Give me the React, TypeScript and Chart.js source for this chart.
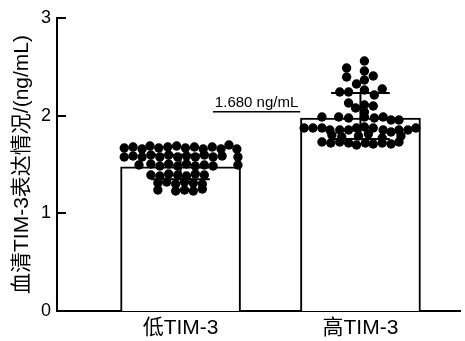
import { useEffect, useRef } from "react";
import { Chart, registerables } from "chart.js";

Chart.register(...registerables);

const categories = ["低TIM-3", "高TIM-3"];
const barMeans = [1.475, 1.975];
const errUpper = [1.6, 2.232];
const errLower = [1.35, 1.761];
const yTicks = [0, 1, 2, 3];
const yTitle = "血清TIM-3表达情况/(ng/mL)";
const refLabel = "1.680 ng/mL";
const refValue = 2.04;
const refFrom = 1.18;
const refTo = 1.665;

const lowOffsets = [
  -0.313, -0.264, -0.214, -0.17, -0.121, -0.071, -0.022, 0.027, 0.077, 0.126, 0.176, 0.225, 0.269, 0.313,
  -0.313, -0.264, -0.214, -0.165, -0.115, -0.066, -0.016, 0.033, 0.082, 0.132, 0.181, 0.231, 0.319,
  -0.231, -0.165, -0.115, -0.066, -0.016, 0.033, 0.082, 0.132, 0.181, 0.319,
  -0.165, -0.115, -0.066, -0.016, 0.033, 0.082, 0.132,
  -0.126, -0.077, -0.027, 0.022, 0.071, 0.121,
  -0.126, -0.027, 0.022, 0.071, 0.121,
];
const lowValues = [
  1.669, 1.679, 1.659, 1.689, 1.669, 1.679, 1.689, 1.669, 1.679, 1.659, 1.679, 1.659, 1.7, 1.659,
  1.577, 1.587, 1.577, 1.597, 1.577, 1.597, 1.577, 1.587, 1.577, 1.597, 1.577, 1.587, 1.577,
  1.495, 1.505, 1.485, 1.505, 1.485, 1.505, 1.485, 1.495, 1.485, 1.495,
  1.392, 1.382, 1.403, 1.392, 1.382, 1.403, 1.392,
  1.311, 1.321, 1.3, 1.321, 1.311, 1.3,
  1.239, 1.229, 1.239, 1.229, 1.249,
];
const highOffsets = [
  0.022, -0.077, 0.022, -0.077, 0.071, 0.022, -0.022,
  -0.115, -0.066, 0.022, 0.077, 0.121,
  -0.066, -0.027, 0.022, 0.071, 0.022,
  -0.214, -0.121, -0.066, 0.022, 0.077, 0.126, 0.17, 0.214,
  -0.313, -0.264, -0.214, -0.17, -0.115, -0.066, -0.022, 0.022, 0.071, 0.126, 0.17, 0.214, 0.264, 0.308,
  -0.159, -0.104, -0.011, 0.044, 0.121, 0.225,
  -0.214, -0.165, -0.115, -0.066, -0.022, 0.027, 0.071, 0.121, 0.17, 0.214,
];
const highValues = [
  2.56, 2.488, 2.457, 2.396, 2.406, 2.365, 2.324,
  2.242, 2.242, 2.263, 2.212, 2.273,
  2.13, 2.078, 2.109, 2.099, 2.037,
  1.986, 1.986, 1.976, 1.986, 1.976, 1.986, 1.956, 1.956,
  1.874, 1.874, 1.874, 1.853, 1.853, 1.853, 1.874, 1.884, 1.874, 1.853, 1.833, 1.853, 1.853, 1.874,
  1.802, 1.782, 1.792, 1.812, 1.771, 1.792,
  1.73, 1.72, 1.73, 1.72, 1.7, 1.72, 1.71, 1.72, 1.71, 1.73,
];

const FONT = '"Liberation Sans", Arial, "Noto Sans CJK SC", sans-serif';

export default function App() {
  const ref = useRef<HTMLCanvasElement | null>(null);

  useEffect(() => {
    if (!ref.current) return;
    const points = [
      ...lowOffsets.map((o, i) => ({ x: 1 + o, y: lowValues[i] })),
      ...highOffsets.map((o, i) => ({ x: 2 + o, y: highValues[i] })),
    ];

    const errorBars = {
      id: "errorBars",
      afterDatasetDraw(chart: any, args: any) {
        if (args.meta.type !== "bar") return;
        const { ctx, scales } = chart;
        const xs = scales.x;
        const ys = scales.y;
        ctx.save();
        ctx.strokeStyle = "#000";
        ctx.lineWidth = 2;
        barMeans.forEach((_, i) => {
          const cx = xs.getPixelForValue(i + 1);
          const half = xs.getPixelForValue(i + 1 + 0.163) - cx;
          const yu = ys.getPixelForValue(errUpper[i]);
          const yl = ys.getPixelForValue(errLower[i]);
          ctx.beginPath();
          ctx.moveTo(cx, yu);
          ctx.lineTo(cx, yl);
          ctx.moveTo(cx - half, yu);
          ctx.lineTo(cx + half, yu);
          ctx.moveTo(cx - half, yl);
          ctx.lineTo(cx + half, yl);
          ctx.stroke();
        });
        ctx.restore();
      },
    };

    const extras = {
      id: "extras",
      afterDraw(chart: any) {
        const { ctx, scales, chartArea } = chart;
        const xs = scales.x;
        const ys = scales.y;
        ctx.save();
        ctx.strokeStyle = "#000";
        ctx.lineWidth = 2;
        yTicks.forEach((v) => {
          if (v === 0) return;
          const py = Math.round(ys.getPixelForValue(v));
          ctx.beginPath();
          ctx.moveTo(chartArea.left, py);
          ctx.lineTo(chartArea.left + 9, py);
          ctx.stroke();
        });
        const x1 = xs.getPixelForValue(refFrom);
        const x2 = xs.getPixelForValue(refTo);
        const py = ys.getPixelForValue(refValue);
        ctx.lineWidth = 1.5;
        ctx.beginPath();
        ctx.moveTo(x1, py);
        ctx.lineTo(x2, py);
        ctx.stroke();
        ctx.fillStyle = "#000";
        ctx.font = `15px ${FONT}`;
        ctx.textAlign = "center";
        ctx.textBaseline = "alphabetic";
        ctx.fillText(refLabel, (x1 + x2) / 2, py - 5);
        ctx.restore();
      },
    };

    const chart = new Chart(ref.current, {
      type: "bar",
      data: {
        datasets: [
          {
            type: "bar",
            data: barMeans.map((v, i) => ({ x: i + 1, y: v })),
            backgroundColor: "#fff",
            borderColor: "#000",
            borderWidth: 2,
            barThickness: 120,
            order: 2,
          } as any,
          {
            type: "scatter",
            data: points,
            backgroundColor: "#000",
            borderWidth: 0,
            pointRadius: 4.7,
            order: 1,
          } as any,
        ],
      },
      options: {
        animation: false,
        responsive: false,
        layout: { padding: { top: 18, left: 0, right: 0, bottom: 0 } },
        plugins: { legend: { display: false }, tooltip: { enabled: false } },
        scales: {
          x: {
            type: "linear",
            offset: false,
            bounds: "data",
            min: 0.3132,
            max: 2.555,
            grid: { display: false, drawTicks: false, offset: false },
            border: { display: true, color: "#000", width: 2 },
            afterBuildTicks: (s: any) => {
              s.ticks = categories.map((_, i) => ({ value: i + 1 }));
            },
            afterFit: (s: any) => {
              s.height = 30;
            },
            ticks: {
              autoSkip: false,
              maxRotation: 0,
              padding: 5,
              color: "#000",
              font: { family: FONT, size: 21 },
              callback: (v: any) => categories[Math.round(Number(v)) - 1] ?? "",
            },
          },
          y: {
            type: "linear",
            min: 0,
            max: 3,
            grid: { display: false, drawTicks: false },
            border: { display: true, color: "#000", width: 2 },
            afterBuildTicks: (s: any) => {
              s.ticks = yTicks.map((v) => ({ value: v }));
            },
            afterFit: (s: any) => {
              s.width = 57;
            },
            ticks: {
              padding: 6,
              color: "#000",
              font: { family: FONT, size: 18 },
            },
            title: {
              display: true,
              text: yTitle,
              color: "#000",
              padding: { top: 10, bottom: 0 },
              font: { family: FONT, size: 21 },
            },
          },
        },
      },
      plugins: [errorBars, extras],
    });
    return () => chart.destroy();
  }, []);

  return (
    <canvas
      ref={ref}
      width={465}
      height={341}
      style={{ position: "absolute", left: 0, top: 0, display: "block" }}
    />
  );
}
